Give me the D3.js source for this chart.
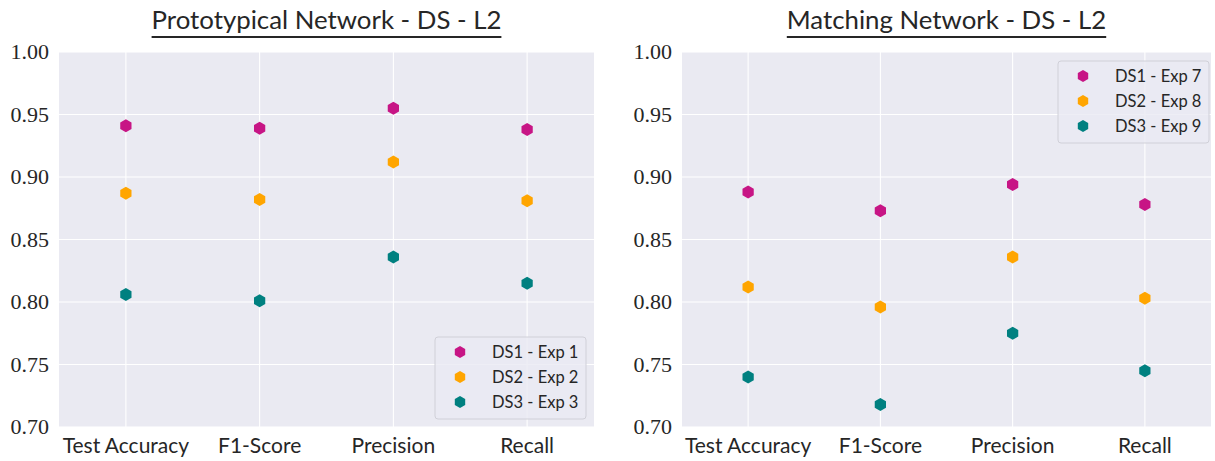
<!DOCTYPE html>
<html>
<head>
<meta charset="utf-8">
<script src="https://cdn.jsdelivr.net/npm/d3@7"></script>
<style>
  body { margin: 0; background: #fff; }
</style>
</head>
<body>
<script>
// chart data
const metrics = ['Test Accuracy', 'F1-Score', 'Precision', 'Recall'];
const yTicks = [0.70, 0.75, 0.80, 0.85, 0.90, 0.95, 1.00];

const protoTitle = 'Prototypical Network - DS - L2';
const protoLabels = ['DS1 - Exp 1', 'DS2 - Exp 2', 'DS3 - Exp 3'];
const protoDS1 = [0.941, 0.939, 0.955, 0.938];
const protoDS2 = [0.887, 0.882, 0.912, 0.881];
const protoDS3 = [0.806, 0.801, 0.836, 0.815];

const matchTitle = 'Matching Network - DS - L2';
const matchLabels = ['DS1 - Exp 7', 'DS2 - Exp 8', 'DS3 - Exp 9'];
const matchDS1 = [0.888, 0.873, 0.894, 0.878];
const matchDS2 = [0.812, 0.796, 0.836, 0.803];
const matchDS3 = [0.740, 0.718, 0.775, 0.745];

const colors = ['#c71585', '#ffa500', '#008080'];

let width = 1215;
let height = 461;

let svg = d3.select('body')
  .append('svg')
  .attr('width', width)
  .attr('height', height);

const sans = 'Lato, "Open Sans", sans-serif';
const serif = '"Liberation Serif", "DejaVu Serif", serif';

// hexagon marker, pointy top
function hexagon(r) {
  let pts = d3.range(6).map(i => {
    let a = Math.PI / 2 + i * Math.PI / 3;
    return [r * Math.cos(a), -r * Math.sin(a)];
  });
  return d3.line()(pts) + 'Z';
}

function drawPanel(opts) {
  let g = svg.append('g');
  let x = d3.scalePoint().domain(metrics).range([opts.left, opts.right]).padding(0.5);
  let y = d3.scaleLinear().domain([0.70, 1.00]).range([427, 52]);

  g.append('rect')
    .attr('x', opts.left).attr('y', 52)
    .attr('width', opts.right - opts.left).attr('height', 375)
    .attr('fill', '#eaeaf2');

  // grid
  g.selectAll('.hgrid').data(yTicks).enter().append('line')
    .attr('x1', opts.left).attr('x2', opts.right)
    .attr('y1', d => y(d)).attr('y2', d => y(d))
    .attr('stroke', '#fff').attr('stroke-width', 1.1);
  g.selectAll('.vgrid').data(metrics).enter().append('line')
    .attr('x1', d => x(d)).attr('x2', d => x(d))
    .attr('y1', 52).attr('y2', 427)
    .attr('stroke', '#fff').attr('stroke-width', 1.1);

  // y tick labels
  g.selectAll('.ytick').data(yTicks).enter().append('text')
    .attr('x', opts.left - 10).attr('y', d => y(d) + 7)
    .attr('text-anchor', 'end')
    .style('font-family', serif).style('font-size', '22px').style('fill', '#262626')
    .text(d => d.toFixed(2));

  // x tick labels
  g.selectAll('.xtick').data(metrics).enter().append('text')
    .attr('x', d => x(d)).attr('y', 453)
    .attr('text-anchor', 'middle')
    .style('font-family', sans).style('font-size', '21px').style('fill', '#262626')
    .text(d => d);

  // title
  let t = g.append('text')
    .attr('x', (opts.left + opts.right) / 2).attr('y', 29)
    .attr('text-anchor', 'middle')
    .style('font-family', sans).style('font-size', '25.8px').style('fill', '#262626')
    .text(opts.title);
  let bb = t.node().getBBox();
  g.append('line')
    .attr('x1', bb.x).attr('x2', bb.x + bb.width)
    .attr('y1', 37).attr('y2', 37)
    .attr('stroke', '#262626').attr('stroke-width', 2);

  // points
  opts.series.forEach((s, i) => {
    g.selectAll('.pt' + i).data(s).enter().append('path')
      .attr('d', hexagon(6.5))
      .attr('transform', (d, j) => `translate(${x(metrics[j])},${y(d)})`)
      .attr('fill', colors[i]);
  });

  // legend
  let lg = g.append('g').attr('transform', `translate(${opts.legend[0]},${opts.legend[1]})`);
  lg.append('rect')
    .attr('x', 0).attr('y', 0).attr('width', 151).attr('height', 82).attr('rx', 3)
    .attr('fill', '#eaeaf2').attr('fill-opacity', 0.8)
    .attr('stroke', '#d0d0d8').attr('stroke-width', 1);
  opts.labels.forEach((l, i) => {
    lg.append('path')
      .attr('d', hexagon(6))
      .attr('transform', `translate(25,${15 + i * 25})`)
      .attr('fill', colors[i]);
    lg.append('text')
      .attr('x', 57).attr('y', 15 + i * 25 + 6)
      .style('font-family', sans).style('font-size', '16.5px').style('fill', '#262626')
      .text(l);
  });
}

drawPanel({
  left: 59, right: 594, title: protoTitle, labels: protoLabels,
  series: [protoDS1, protoDS2, protoDS3], legend: [435, 337]
});
drawPanel({
  left: 682, right: 1211, title: matchTitle, labels: matchLabels,
  series: [matchDS1, matchDS2, matchDS3], legend: [1058, 61]
});
</script>
</body>
</html>
